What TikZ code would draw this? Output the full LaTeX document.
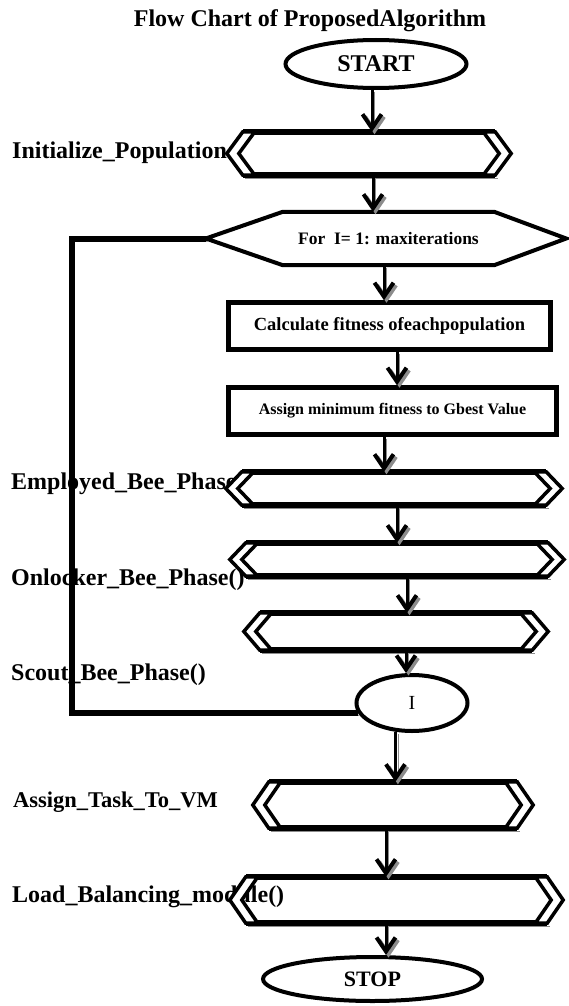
\documentclass[tikz,border=0pt]{standalone}
\usepackage{fontspec}
\setmainfont{Liberation Serif}
\usetikzlibrary{arrows.meta,shapes.geometric,calc}

% thick top and bottom rules of a phase box
\newcommand{\phaselines}[1]{%
  \draw[bar] (#1.north west) -- (#1.north east);
  \draw[bar] (#1.south west) -- (#1.south east);}
% the double chevrons at both ends
\newcommand{\phaseends}[1]{%
  \draw[band] (#1.north west) -- ($(#1.west)+(-16,0)$) -- (#1.south west)
    -- ($(#1.south west)+(12,0)$) -- ($(#1.west)+(-4,0)$) -- ($(#1.north west)+(12,0)$) -- cycle;
  \draw[band] (#1.north east) -- ($(#1.east)+(16,0)$) -- (#1.south east)
    -- ($(#1.south east)+(-12,0)$) -- ($(#1.east)+(4,0)$) -- ($(#1.north east)+(-12,0)$) -- cycle;}

\begin{document}
\begin{tikzpicture}[x=1pt, y=-1pt, line join=miter,
    big/.style = {font=\fontsize{24}{28}\selectfont\bfseries},
    side/.style = {big, anchor=base west, inner sep=0pt},
    term/.style = {draw, ellipse, line width=4pt, inner sep=0pt},
    proc/.style = {draw, rectangle, line width=4.5pt, inner sep=0pt},
    phase/.style = {rectangle, inner sep=0pt},
    shadowed/.style = {preaction={draw=black!45, transform canvas={shift={(2.5pt,-2.5pt)}}}},
    bar/.style = {line width=5.5pt, shadowed},
    band/.style = {draw, fill=white, line width=3.5pt},
    flow/.style = {line width=3pt, shadowed, -{Straight Barb[length=14pt, width=19pt, line width=4pt]}},
    back/.style = {line width=6pt, shadowed}]
  \useasboundingbox (0,0) rectangle (568,1006);

  \node[big, anchor=base] (title) at (310,27) {Flow Chart of ProposedAlgorithm};
  \node[term, big, minimum width=181pt, minimum height=48pt] (start) at (376,64) {START};
  \node[phase, minimum width=252pt, minimum height=43pt] (init) at (369,153.5) {};
  \node[phase, minimum width=211pt, minimum height=53pt, font=\fontsize{17.5}{20}\selectfont\bfseries] (loop) at (388.5,238.5) {For~~I= 1: maxiterations};
  \coordinate (looptip) at ($(loop.west)+(-77,0)$);
  \node[proc, minimum width=322pt, minimum height=47pt, font=\fontsize{18.5}{22}\selectfont\bfseries] (fitness) at (389.5,326) {Calculate fitness ofeachpopulation};
  \node[proc, minimum width=328pt, minimum height=47pt, font=\fontsize{16}{19}\selectfont\bfseries] (gbest) at (392.5,411) {Assign minimum fitness to Gbest Value};
  \node[phase, minimum width=304pt, minimum height=33pt] (emp) at (394,488.5) {};
  \node[phase, minimum width=302pt, minimum height=33pt] (onl) at (397,559.5) {};
  \node[phase, minimum width=272pt, minimum height=37pt] (scout) at (396,631.5) {};
  \node[term, font=\fontsize{20}{24}\selectfont, minimum width=111pt, minimum height=56pt] (iter) at (412,703) {I};
  \node[phase, minimum width=248pt, minimum height=46pt] (task) at (393,805) {};
  \node[phase, minimum width=301pt, minimum height=46pt] (load) at (396.5,900) {};
  \node[term, font=\fontsize{22}{26}\selectfont\bfseries, minimum width=219pt, minimum height=44pt] (stop) at (372.5,979) {STOP};
  \coordinate (rail) at (72,500);

  % hexagon of the loop
  \draw[line width=4pt] (loop.north west) -- (loop.north east) -- ($(loop.east)+(72,0)$)
    -- (loop.south east) -- (loop.south west) -- (looptip) -- cycle;

  \foreach \p in {init,emp,onl,scout,task,load} {\phaselines{\p}}

  \node[side] (l1) at (12,158) {Initialize\_Population};
  \node[side] (l2) at (11,489) {Employed\_Bee\_Phase};
  \node[side] (l3) at (11,585) {Onlocker\_Bee\_Phase()};
  \node[side] (l4) at (11,680) {Scout\_Bee\_Phase()};
  \node[side, font=\fontsize{22.5}{26}\selectfont\bfseries] (l5) at (13,807) {Assign\_Task\_To\_VM};
  \node[side] (l6) at (12,902) {Load\_Balancing\_module()};

  \draw[back] (iter.190) -| (rail) |- (looptip);

  \draw[flow] ($(start.south)+(-4,0)$) -- ($(start.south |- init.north)+(-4,0)$);
  \draw[flow] ($(init.south)+(4,0)$) -- ($(init.south |- loop.north)+(4,0)$);
  \draw[flow] ($(loop.south)+(-4.5,0)$) -- ($(loop.south |- fitness.north)+(-4.5,0)$);
  \draw[flow] ($(fitness.south)+(7.5,0)$) -- ($(fitness.south |- gbest.north)+(7.5,0)$);
  \draw[flow] ($(gbest.south)+(-8.5,0)$) -- ($(gbest.south |- emp.north)+(-8.5,0)$);
  \draw[flow] ($(emp.south)+(3,0)$) -- ($(emp.south |- onl.north)+(3,0)$);
  \draw[flow] ($(onl.south)+(10,0)$) -- ($(onl.south |- scout.north)+(10,0)$);
  \draw[flow] ($(scout.south)+(10,0)$) -- ($(scout.south |- iter.north)+(10,0)$);
  \draw[flow] (iter.240) -- (iter.240 |- task.north);
  \draw[flow] ($(task.south)+(-7,0)$) -- ($(task.south |- load.north)+(-7,0)$);
  \draw[flow] ($(load.south)+(-10.5,0)$) -- ($(load.south |- stop.north)+(-10.5,0)$);

  \foreach \p in {init,emp,onl,scout,task,load} {\phaseends{\p}}
\end{tikzpicture}
\end{document}
